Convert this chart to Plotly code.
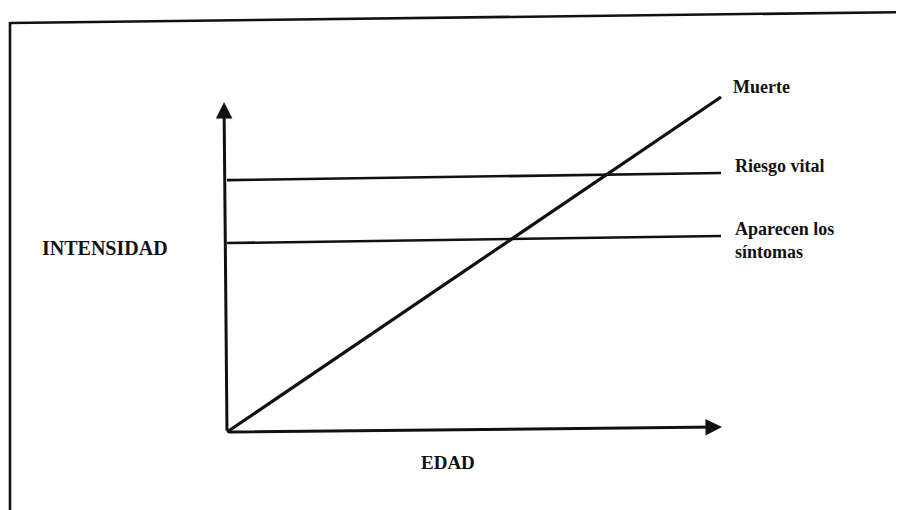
import plotly.graph_objects as go

# Conceptual data (EDAD 0..10, INTENSIDAD 0..10)
edad_muerte = [0, 10]
intensidad_muerte = [0, 10]
edad_umbral = [0, 10]
riesgo_vital = [7.52, 7.73]
aparecen_sintomas = [5.64, 5.85]

FONT = "Liberation Serif"
INK = "#111111"
W, H = 904, 510
OFF = 8  # page body margin in the browser

fig = go.Figure()

fig.add_trace(go.Scatter(x=edad_muerte, y=intensidad_muerte, mode="lines",
                         line=dict(color=INK, width=3.2), hoverinfo="skip"))
fig.add_trace(go.Scatter(x=edad_umbral, y=riesgo_vital, mode="lines",
                         line=dict(color=INK, width=2.6), hoverinfo="skip"))
fig.add_trace(go.Scatter(x=edad_umbral, y=aparecen_sintomas, mode="lines",
                         line=dict(color=INK, width=2.6), hoverinfo="skip"))

# axes with arrows
fig.add_annotation(x=10.02, y=0.15, ax=0, ay=0, xref="x", yref="y", axref="x", ayref="y",
                   showarrow=True, arrowhead=2, arrowsize=1.1, arrowwidth=3, arrowcolor=INK, text="")
fig.add_annotation(x=-0.06, y=9.85, ax=0, ay=0, xref="x", yref="y", axref="x", ayref="y",
                   showarrow=True, arrowhead=2, arrowsize=1.1, arrowwidth=3, arrowcolor=INK, text="")

# right-side labels
fig.add_annotation(x=10.2, y=10.3, text="<b>Muerte</b>", showarrow=False, xanchor="left",
                   yanchor="middle", font=dict(family=FONT, size=18, color=INK))
fig.add_annotation(x=10.25, y=7.94, text="<b>Riesgo vital</b>", showarrow=False, xanchor="left",
                   yanchor="middle", font=dict(family=FONT, size=18, color=INK))
fig.add_annotation(x=10.25, y=5.72, text="<b>Aparecen los<br>síntomas</b>", showarrow=False,
                   xanchor="left", yanchor="middle", align="left",
                   font=dict(family=FONT, size=18, color=INK))

# axis titles
fig.add_annotation(x=-2.47, y=5.5, text="<b>INTENSIDAD</b>", showarrow=False, xanchor="center",
                   yanchor="middle", font=dict(family=FONT, size=20, color=INK))
fig.add_annotation(x=4.47, y=-0.9, text="<b>EDAD</b>", showarrow=False, xanchor="center",
                   yanchor="middle", font=dict(family=FONT, size=19, color=INK))

# frame of the scanned figure (paper coordinates, compensating page margin)
fig.add_shape(type="line", xref="paper", yref="paper",
              x0=(10 - OFF) / W, y0=1 - (23 - OFF) / H, x1=1.0, y1=1 - (12 - OFF) / H,
              line=dict(color=INK, width=2.6))
fig.add_shape(type="line", xref="paper", yref="paper",
              x0=(10 - OFF) / W, y0=1 - (22 - OFF) / H, x1=(10 - OFF) / W, y1=0,
              line=dict(color=INK, width=2.6))

fig.update_xaxes(range=[-4.433, 13.866], visible=False, fixedrange=True)
fig.update_yaxes(range=[-2.567, 12.657], visible=False, fixedrange=True)
fig.update_layout(width=W, height=H, margin=dict(l=0, r=0, t=0, b=0),
                  paper_bgcolor="white", plot_bgcolor="white", showlegend=False)

fig.write_html("out.html")
